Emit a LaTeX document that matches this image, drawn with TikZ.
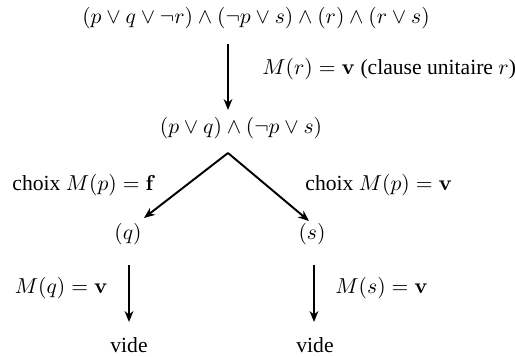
\documentclass[tikz,border=0pt]{standalone}
\usepackage[no-math]{fontspec}
\setmainfont{Liberation Serif}
\usetikzlibrary{arrows.meta}

\begin{document}
\begin{tikzpicture}[x=0.463pt, y=-0.463pt,
    every node/.style={inner sep=0pt},
    fleche/.style={line width=0.9pt, -{Stealth[length=5pt, width=4pt, inset=1.5pt]}}]
    \useasboundingbox (0,0) rectangle (515,356);

    % Formule de depart et propagation unitaire
    \node (top) at (256,18) {$(p \vee q \vee \neg r) \wedge (\neg p \vee s) \wedge (r) \wedge (r \vee s)$};
    \node (mid) at (241,128) {$(p \vee q) \wedge (\neg p \vee s)$};
    \coordinate (h1) at (228,44);
    \coordinate (h2) at (228,110);
    \draw[fleche] (h1) -- (h2);
    \node[anchor=west] (lr) at (262,69) {$M(r) = \mathbf{v}$ (clause unitaire $r$)};

    % Les deux choix pour p
    \coordinate (apex) at (228,153);
    \coordinate (gq) at (144,218);
    \coordinate (gs) at (309,221);
    \draw[fleche] (apex) -- (gq);
    \draw[fleche] (apex) -- (gs);
    \node[anchor=east] (lf) at (156,185) {choix $M(p) = \mathbf{f}$};
    \node[anchor=west] (lv) at (305,185) {choix $M(p) = \mathbf{v}$};

    \node (q) at (128,234) {$(q)$};
    \node (s) at (312,234) {$(s)$};

    % Fin des deux branches
    \node (vq) at (129,345) {vide};
    \node (vs) at (315,345) {vide};
    \coordinate (q1) at (129,265);
    \coordinate (q2) at (129,322);
    \coordinate (s1) at (314,265);
    \coordinate (s2) at (314,322);
    \draw[fleche] (q1) -- (q2);
    \draw[fleche] (s1) -- (s2);
    \node[anchor=east] (lq) at (108,288) {$M(q) = \mathbf{v}$};
    \node[anchor=west] (ls) at (335,288) {$M(s) = \mathbf{v}$};
\end{tikzpicture}
\end{document}
